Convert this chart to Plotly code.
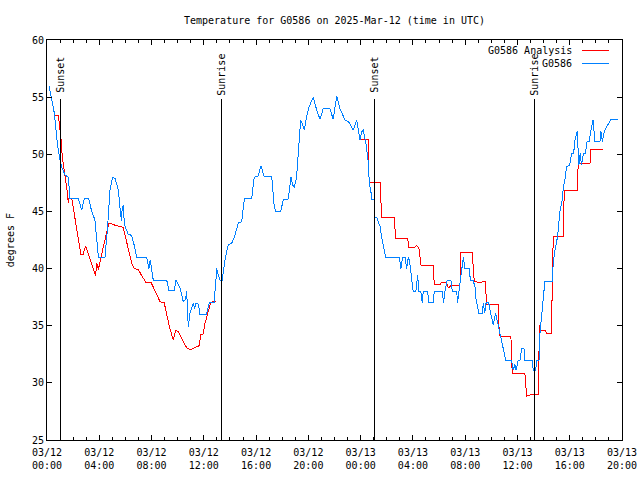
import plotly.graph_objects as go

# ---- data (hours since 2025-03-12 00:00 UTC) ----
obs_hours = [0.15,0.36,0.56,0.69,0.82,1.0,1.12,1.38,1.63,1.76,2.4,2.55,2.65,2.75,2.86,3.2,3.42,3.67,3.8,3.93,4.44,4.64,4.82,5.02,5.2,5.46,5.63,5.7,5.75,5.84,5.9,5.97,6.22,6.48,6.66,6.86,7.63,7.8,7.9,8.0,8.13,9.16,9.33,9.74,9.87,10.18,10.43,10.6,10.69,10.81,10.94,11.2,11.3,11.4,11.58,11.7,12.2,12.42,12.78,12.93,12.98,13.1,13.24,13.41,13.62,13.87,14.13,14.38,14.64,14.9,15.1,15.66,15.86,16.17,16.37,16.6,17.19,17.39,17.52,17.88,18.08,18.46,18.67,18.8,18.92,19.1,19.23,19.41,19.55,19.69,19.87,20.07,20.38,20.63,20.89,21.14,21.65,21.9,22.17,22.42,22.8,23.1,23.44,23.7,23.95,24.1,24.2,24.4,24.6,24.66,24.79,24.84,25.04,25.1,25.22,25.35,25.48,25.6,25.73,25.86,25.91,26.96,27.08,27.21,27.4,27.52,27.65,27.75,27.9,28.02,28.23,28.36,28.46,28.6,28.71,28.79,29.12,29.23,29.56,29.63,30.25,30.35,30.45,30.63,30.91,31.01,31.35,31.42,31.52,31.68,31.86,31.98,32.3,32.4,32.6,32.75,32.82,33.05,33.3,33.39,33.5,33.6,33.8,33.95,34.15,34.33,34.53,34.79,34.99,35.1,35.55,35.68,35.8,35.9,36.06,36.2,36.32,36.5,36.57,37.13,37.21,37.4,37.47,37.65,37.72,37.85,37.97,38.1,38.66,38.74,38.87,39.07,39.17,39.25,39.43,39.5,39.63,39.76,40.0,40.15,40.3,40.4,40.57,40.7,40.8,40.9,41.06,41.2,41.33,41.5,41.6,41.79,41.93,42.31,42.39,42.5,42.64,42.82,42.95,43.15,43.66]
obs_temps = [56.0,54.8,53.6,52.1,50.7,49.5,48.9,48.2,48.0,46.1,46.1,45.6,45.1,45.6,46.1,46.1,45.0,44.25,42.5,41.0,41.0,43.7,46.9,48.0,47.9,46.9,44.8,44.2,45.2,45.6,44.3,43.7,43.0,42.9,42.1,41.0,41.0,40.0,40.75,40.0,39.0,39.0,38.1,38.1,39.0,38.3,37.1,37.3,38.0,34.9,36.1,37.0,36.5,37.0,36.9,36.0,36.0,37.0,37.0,39.0,40.0,39.5,39.0,39.0,40.75,42.1,42.2,42.9,44.0,44.1,46.1,46.1,48.0,48.1,49.0,48.1,48.1,45.4,45.0,45.0,46.0,46.1,48.0,47.3,47.1,48.0,50.4,53.0,52.65,52.1,53.3,54.2,55.0,53.9,53.06,54.0,54.0,53.06,55.1,54.0,53.0,52.8,52.1,53.0,51.25,52.0,52.1,51.0,49.2,47.5,46.7,46.06,46.06,44.5,44.5,44.1,43.7,42.8,42.1,41.5,41.0,41.0,40.0,41.0,41.0,40.0,41.0,40.6,39.0,38.0,38.0,39.4,38.0,38.0,37.0,38.0,38.0,37.0,37.0,38.0,38.0,37.0,38.0,39.0,39.0,38.0,38.0,37.0,38.0,39.6,41.0,40.0,40.0,39.0,39.0,38.4,37.4,36.1,36.1,37.0,36.1,37.0,37.0,36.1,35.1,36.1,35.1,33.75,32.7,32.0,32.0,31.1,31.6,31.1,32.0,32.0,33.0,33.0,32.0,32.0,31.1,31.1,32.0,32.0,34.3,36.1,37.5,38.9,38.9,40.5,41.6,42.8,44.0,45.0,46.0,47.0,47.75,48.9,49.06,50.1,50.1,51.25,52.0,49.06,50.1,49.06,50.1,50.1,51.1,51.1,52.0,53.0,51.1,51.1,52.0,51.1,52.0,52.4,52.7,53.06,53.06]

ana_hours = [0.56,0.87,0.94,1.0,1.07,1.17,1.33,1.43,1.53,1.63,1.68,1.89,2.01,2.2,2.4,2.6,2.75,2.96,3.16,3.42,3.62,3.72,3.8,3.93,4.13,4.31,4.51,4.64,4.74,5.2,5.51,5.84,5.97,6.17,6.35,6.53,6.68,6.99,7.29,7.57,7.96,8.26,8.65,8.97,9.16,9.33,9.54,9.67,9.85,10.05,10.3,10.56,10.76,11.0,11.32,11.65,11.76,11.96,12.09,12.34,12.52,12.72,12.93,None,23.95,24.58,24.65,25.5,25.6,26.57,26.68,27.6,27.7,28.1,28.28,28.45,28.62,29.56,29.63,30.07,30.2,30.58,30.71,30.9,31.6,31.68,32.54,32.69,33.0,33.55,33.63,34.53,34.6,34.68,35.5,35.6,36.57,36.65,36.7,37.03,37.59,37.64,37.72,37.8,38.15,38.23,38.61,38.66,38.74,39.5,39.58,40.57,40.65,41.55,41.62,42.56]
ana_temps = [53.4,53.4,52.7,52.1,51.4,49.8,48.6,48.0,46.9,45.7,46.15,46.15,45.3,43.8,42.5,41.2,41.2,42.0,41.3,40.5,39.7,39.4,40.5,39.9,41.0,41.9,42.9,43.7,44.0,43.8,43.7,43.6,42.9,41.9,41.2,40.3,40.0,39.9,39.3,38.8,38.8,38.1,37.1,37.0,35.9,35.1,34.2,33.75,34.6,34.5,33.9,33.3,33.0,32.9,33.1,33.25,34.2,34.3,35.2,36.4,37.0,37.1,37.1,None,51.3,51.3,47.5,47.5,44.5,44.5,42.65,42.65,41.85,41.85,42.0,41.85,40.3,40.3,38.6,38.6,38.8,38.8,38.3,38.5,38.5,41.4,41.4,38.9,38.8,38.85,36.9,36.9,34.5,34.05,34.05,30.8,30.8,29.8,28.85,28.95,28.95,32.4,35.1,34.6,34.6,34.3,34.3,38.6,42.8,42.8,46.8,46.8,49.2,49.2,50.4,50.4]

sun_hours = [1.02, 13.34, 25.04, 37.29]
sun_labels = ["Sunset", "Sunrise", "Sunset", "Sunrise"]

tick_hours = [0, 4, 8, 12, 16, 20, 24, 28, 32, 36, 40, 44]
tick_labels = ["03/12<br>00:00", "03/12<br>04:00", "03/12<br>08:00", "03/12<br>12:00",
               "03/12<br>16:00", "03/12<br>20:00", "03/13<br>00:00", "03/13<br>04:00",
               "03/13<br>08:00", "03/13<br>12:00", "03/13<br>16:00", "03/13<br>20:00"]
y_ticks = [25, 30, 35, 40, 45, 50, 55, 60]

series_names = ["G0586 Analysis", "G0586"]
RED = "#ff0000"
BLUE = "#0080ff"
FONT = "DejaVu Sans Mono"

fig = go.Figure()
fig.add_trace(go.Scatter(x=ana_hours, y=ana_temps, mode="lines", name=series_names[0],
                         line=dict(color=RED, width=1), connectgaps=False))
fig.add_trace(go.Scatter(x=obs_hours, y=obs_temps, mode="lines", name=series_names[1],
                         line=dict(color=BLUE, width=1)))

shapes = []
annotations = []
for h, lab in zip(sun_hours, sun_labels):
    shapes.append(dict(type="line", xref="x", yref="paper", x0=h, x1=h, y0=0, y1=0.8525,
                       line=dict(color="black", width=1)))
    annotations.append(dict(x=h, xref="x", y=0.914, yref="paper", text=lab, textangle=-90,
                            showarrow=False, xanchor="center", yanchor="middle",
                            font=dict(family=FONT, size=10, color="black")))

# manual gnuplot-style legend (text right, sample to the right)
leg_y = [0.975, 0.9425]
for name, col, yy in zip(series_names, [RED, BLUE], leg_y):
    annotations.append(dict(x=0.9165, xref="paper", y=yy, yref="paper", text=name,
                            showarrow=False, xanchor="right", yanchor="middle",
                            font=dict(family=FONT, size=10, color="black")))
    shapes.append(dict(type="line", xref="paper", yref="paper", x0=0.930, x1=0.978,
                       y0=yy, y1=yy, line=dict(color=col, width=1)))

annotations.append(dict(x=-0.064, xref="paper", y=0.5, yref="paper", text="degrees F",
                        textangle=-90, showarrow=False, xanchor="center", yanchor="middle",
                        font=dict(family=FONT, size=10, color="black")))

fig.update_layout(
    width=640, height=480,
    margin=dict(l=47, r=18, t=40, b=40, autoexpand=False),
    paper_bgcolor="white", plot_bgcolor="white",
    showlegend=False,
    title=dict(text="Temperature for G0586 on 2025-Mar-12 (time in UTC)",
               x=334.5 / 640, xanchor="center", y=1 - 20 / 480, yanchor="middle",
               font=dict(family=FONT, size=10, color="black")),
    font=dict(family=FONT, size=10, color="black"),
    shapes=shapes, annotations=annotations,
)
fig.update_xaxes(range=[0, 44], tickmode="array", tickvals=tick_hours, ticktext=tick_labels,
                 automargin=False, ticklabelstandoff=3,
                 showgrid=False, zeroline=False, showline=True, linecolor="black", linewidth=1,
                 mirror="allticks", ticks="inside", ticklen=5, tickcolor="black",
                 tickfont=dict(family=FONT, size=10, color="black"),
                 minor=dict(dtick=1, tick0=0, ticks="inside", ticklen=3, tickcolor="black", showgrid=False))
fig.update_yaxes(range=[25, 60], tickmode="array", tickvals=y_ticks, automargin=False,
                 showgrid=False, zeroline=False, showline=True, linecolor="black", linewidth=1,
                 mirror="allticks", ticks="inside", ticklen=5, tickcolor="black",
                 tickfont=dict(family=FONT, size=10, color="black"))

post = ("document.body.style.margin='0';document.body.style.overflow='hidden';"
        "var s=document.createElement('style');"
        "s.textContent='.js-plotly-plot svg path{shape-rendering:crispEdges;}';"
        "document.head.appendChild(s);")
fig.write_html("out.html", config={"displayModeBar": False}, post_script=post)
